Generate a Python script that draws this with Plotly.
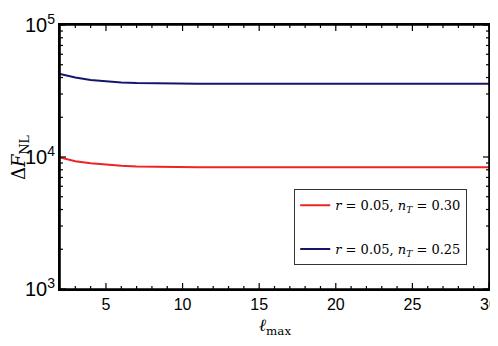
import math
import plotly.graph_objects as go

ell = list(range(2, 31))
delta_f_nt030 = [9900, 9300, 8950, 8720, 8580, 8490, 8440, 8410, 8390, 8380,
                 8375, 8370, 8368, 8366, 8365, 8364, 8363, 8362, 8362, 8361,
                 8361, 8360, 8360, 8360, 8360, 8360, 8360, 8360, 8360]
delta_f_nt025 = [42500, 40000, 38300, 37300, 36700, 36300, 36100, 36000, 35950, 35920,
                 35900, 35890, 35880, 35875, 35870, 35868, 35866, 35864, 35862, 35860,
                 35860, 35860, 35860, 35860, 35860, 35860, 35860, 35860, 35860]
labels = ["<i>r</i> = 0.05, <i>n</i><sub><i>T</i></sub> = 0.30",
          "<i>r</i> = 0.05, <i>n</i><sub><i>T</i></sub> = 0.25"]
colors = ["#ee2424", "#15156e"]
x_major = [5, 10, 15, 20, 25, 30]
x_minor = [v for v in range(3, 30) if v % 5]
y_major = [1e3, 1e4, 1e5]
y_minor = [m * 10 ** e for e in (3, 4) for m in range(2, 10)]

XMIN, XMAX, YMIN, YMAX = 2, 30, 3, 5
PW, PH = 429, 264

fig = go.Figure()
for i, (ys, lab, c) in enumerate(zip([delta_f_nt030, delta_f_nt025], labels, colors)):
    fig.add_trace(go.Scatter(x=ell, y=ys, mode="lines", name=lab,
                             line=dict(color=c, width=2),
                             legendgroup=f"g{i}"))

fig.update_layout(
    width=490, height=330,
    margin=dict(l=52, r=9, t=17, b=49),
    paper_bgcolor="white", plot_bgcolor="white",
    font=dict(family="Liberation Sans", size=16, color="black"),
    showlegend=True,
    legend=dict(x=0.546, y=0.378, xanchor="left", yanchor="top",
                bgcolor="white", bordercolor="#333333", borderwidth=1,
                font=dict(family="DejaVu Serif", size=13, color="black"),
                tracegroupgap=24),
    xaxis=dict(range=[XMIN, XMAX], tick0=0, dtick=5, automargin=False,
               ticks="", showline=True, linecolor="black", linewidth=1.6, mirror=True,
               gridcolor="white", zeroline=False),
    yaxis=dict(type="log", range=[YMIN, YMAX], dtick=1, exponentformat="power",
               automargin=False, ticks="", showline=True, linecolor="black",
               linewidth=1.6, mirror=True, gridcolor="white"),
)

# axis titles
fig.add_annotation(text="<i>ℓ</i><sub>max</sub>", xref="paper", yref="paper",
                   x=0.5, y=0, yshift=-37, showarrow=False, yanchor="middle",
                   font=dict(family="DejaVu Serif", size=17))
fig.add_annotation(text="Δ<i>F</i><sub>NL</sub>", xref="paper", yref="paper",
                   x=0, y=0.5, xshift=-40, showarrow=False, textangle=-90,
                   xanchor="center", font=dict(family="DejaVu Serif", size=18))

# frame
fig.add_shape(type="rect", xref="paper", yref="paper", x0=0, x1=1, y0=0, y1=1,
              line=dict(color="black", width=1.6), layer="above")

def xp(v):
    return (v - XMIN) / (XMAX - XMIN)

def yp(v):
    return (math.log10(v) - YMIN) / (YMAX - YMIN)

tick_line = dict(color="black", width=1.2)
for vals, ln in ((x_major, 6), (x_minor, 3)):
    for v in vals:
        px = xp(v)
        fig.add_shape(type="line", xref="paper", yref="paper", x0=px, x1=px,
                      y0=0, y1=ln / PH, line=tick_line, layer="above")
        fig.add_shape(type="line", xref="paper", yref="paper", x0=px, x1=px,
                      y0=1, y1=1 - ln / PH, line=tick_line, layer="above")
for vals, ln in ((y_major, 6), (y_minor, 3)):
    for v in vals:
        py = yp(v)
        fig.add_shape(type="line", xref="paper", yref="paper", y0=py, y1=py,
                      x0=0, x1=ln / PW, line=tick_line, layer="above")
        fig.add_shape(type="line", xref="paper", yref="paper", y0=py, y1=py,
                      x0=1, x1=1 - ln / PW, line=tick_line, layer="above")

fig.write_html("out.html")
